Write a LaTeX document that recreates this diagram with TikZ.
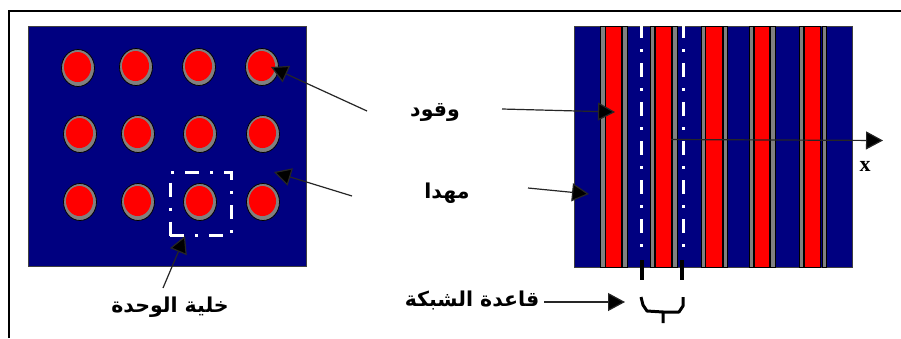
\documentclass[tikz,border=0pt]{standalone}
\usepackage{fontspec}
\usetikzlibrary{arrows.meta,shapes.geometric}
\TeXXeTstate=1
\newfontfamily\arabicfont[Script=Arabic]{DejaVu Sans}
\newfontfamily\latinbold{Liberation Serif}
\definecolor{navyfill}{RGB}{0,0,128}
\definecolor{fuelred}{RGB}{255,0,0}
\definecolor{cladgray}{RGB}{128,128,128}
\tikzset{
  panel/.style={draw=black!75,line width=1pt,fill=navyfill},
  clad/.style={draw=black,line width=0.5pt,fill=cladgray},
  fuelbar/.style={draw=black,line width=0.5pt,fill=fuelred},
  pinclad/.style={ellipse,draw=black,line width=0.8pt,fill=cladgray,minimum width=33pt,minimum height=37pt,inner sep=0pt},
  pinfuel/.style={ellipse,fill=fuelred,minimum width=27pt,minimum height=30pt,inner sep=0pt},
  cellline/.style={draw=white,line width=3pt,dash pattern=on 14pt off 11pt on 3pt off 11pt},
  arr/.style={draw=black!85,line width=1.2pt,-{Triangle[length=17pt,width=18pt,fill=black]}},
  lbl/.style={inner sep=0pt,font=\arabicfont\bfseries\fontsize{20.5}{24}\selectfont,text=black},
}
\begin{document}
\begin{tikzpicture}[x=1pt,y=-1pt]
\useasboundingbox (0,0) rectangle (901,338);
\fill[white] (0,0) rectangle (901,338);
% frame
\coordinate (fa) at (9,338);
\coordinate (fb) at (9,11);
\coordinate (fc) at (901,11);
\draw[black,line width=1.4pt] (fa) -- (fb) -- (fc);
% left panel
\node[panel,minimum width=278pt,minimum height=240pt,inner sep=0pt] (left) at (167,146) {};
\foreach \n/\x/\y in {a/78/68,b/136/67,c/199/67,d/262/67,e/80/134,f/138/134,g/200/134,h/263/134,i/80/202,j/138/202,k/200/202,l/263/202}{
  \node[pinclad] (clad\n) at (\x,\y) {};
  \node[pinfuel] (fuel\n) at (\x-0.5,\y-1) {};
}
% unit cell
\node[cellline,draw,rectangle,minimum width=61pt,minimum height=63pt,inner sep=0pt,fill=none] (cell) at (200.5,204) {};
% right panel
\node[panel,minimum width=278pt,minimum height=241pt,inner sep=0pt] (right) at (713,146.5) {};
\foreach \g/\h/\r/\s/\p/\q in {600/605/605/621/622/627,650/654/655/671/672/677,701/705/705/722/723/727,749/753/754/769/770/775,799/803/804/820/822/826}{
  \draw[clad] (\g,26) rectangle (\h,267);
  \draw[clad] (\p,26) rectangle (\q,267);
  \draw[fuelbar] (\r,26) rectangle (\s,267);
}
% dash-dot lines of the lattice cell
\coordinate (dl1) at (641,24);
\coordinate (dl2) at (641,252);
\coordinate (dr1) at (683,24);
\coordinate (dr2) at (683,252);
\draw[cellline] (dl1) -- (dl2);
\draw[cellline] (dr1) -- (dr2);
% ticks below
\coordinate (tl1) at (642,260);
\coordinate (tl2) at (642,280);
\coordinate (tr1) at (682,260);
\coordinate (tr2) at (682,280);
\draw[black,line width=4pt] (tl1) -- (tl2);
\draw[black,line width=4pt] (tr1) -- (tr2);
% brace
\coordinate (bl) at (641,297);
\coordinate (br) at (683,297);
\coordinate (bm) at (663,312);
\coordinate (bt) at (663,323);
\draw[black,line width=3pt,line join=round] (bl) -- (643,305) -- (647,311) -- (bm) -- (bt);
\draw[black,line width=3pt,line join=round] (br) -- (683,306) -- (679,312) -- (bm);
% x axis
\coordinate (xa) at (671,139.5);
\coordinate (xb) at (883,140.5);
\draw[arr] (xa) -- (xb);
\node[inner sep=0pt,font=\latinbold\bfseries\fontsize{22}{22}\selectfont] (xl) at (865,166) {x};
% labels
\node[lbl] (wq) at (435,112) {\beginR وقود\endR};
\node[lbl] (mh) at (447,193) {\beginR مهدا\endR};
\node[lbl] (qs) at (472,300) {\beginR قاعدة الشبكة\endR};
\node[lbl] (kh) at (170,307) {\beginR خلية الوحدة\endR};
% arrows
\coordinate (t1) at (367,111);
\coordinate (h1) at (271,67);
\coordinate (t2) at (352,196);
\coordinate (h2) at (274,172);
\coordinate (t3) at (163,288);
\coordinate (h3) at (185,236);
\coordinate (t4) at (502,109);
\coordinate (h4) at (615,112);
\coordinate (t5) at (528,188);
\coordinate (h5) at (589,194);
\coordinate (t6) at (544,302);
\coordinate (h6) at (625,302);
\draw[arr] (t1) -- (h1);
\draw[arr] (t2) -- (h2);
\draw[arr] (t3) -- (h3);
\draw[arr] (t4) -- (h4);
\draw[arr] (t5) -- (h5);
\draw[arr] (t6) -- (h6);
\end{tikzpicture}
\end{document}
